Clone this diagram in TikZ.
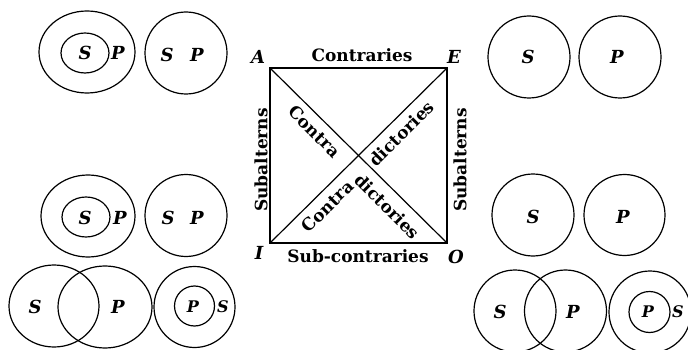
\documentclass[tikz,border=0pt]{standalone}
\usepackage{fontspec}
\setmainfont{DejaVu Serif}

\begin{document}
\begin{tikzpicture}[
    x=1pt, y=-1pt,
    ring/.style={draw, line width=1.2pt},
    side/.style={draw, line width=1.2pt},
    rel/.style={font=\fontsize{17}{19}\selectfont\bfseries, inner sep=0pt},
    corner/.style={font=\fontsize{18}{20}\selectfont\bfseries\itshape, inner sep=0pt},
    term/.style={font=\fontsize{18}{20}\selectfont\bfseries\itshape, inner sep=0pt},
    termSm/.style={font=\fontsize{16}{18}\selectfont\bfseries\itshape, inner sep=0pt}
]
    \useasboundingbox (0,0) rectangle (688,350);

    % square of opposition
    \coordinate (A) at (270,68);
    \coordinate (E) at (447,68);
    \coordinate (I) at (270,243);
    \coordinate (O) at (447,243);
    \draw[side] (A) -- (E) -- (O) -- (I) -- cycle;
    \draw[side] (A) -- (O);
    \draw[side] (I) -- (E);

    \node[corner] (lblA) at (258,57) {A};
    \node[corner] (lblE) at (454,57) {E};
    \node[corner] (lblI) at (259,253) {I};
    \node[corner] (lblO) at (456,257) {O};

    \node[rel] (contraries) at (362,55) {Contraries};
    \node[rel] (subcontraries) at (358,256) {Sub-contraries};
    \node[rel, rotate=90] (subLeft) at (261,160) {Subalterns};
    \node[rel, rotate=90] (subRight) at (460,160) {Subalterns};
    \node[rel, rotate=-45] (contraUp) at (314.5,131.5) {Contra};
    \node[rel, rotate=45] (dictUp) at (401.5,133.5) {dictories};
    \node[rel, rotate=45] (contraLow) at (327.5,206.5) {Contra};
    \node[rel, rotate=-45] (dictLow) at (387.5,206.5) {dictories};

    % A: all S is P
    \draw[ring] (87,52) ellipse [x radius=48, y radius=41];
    \draw[ring] (85,53) ellipse [x radius=24, y radius=20];
    \node[term] (aS) at (85,53) {S};
    \node[term] (aP) at (118,53) {P};
    \draw[ring] (186,53) circle [radius=41];
    \node[term] (aS2) at (167,55) {S};
    \node[term] (aP2) at (197,55) {P};

    % E: no S is P
    \draw[ring] (529,57) circle [radius=41];
    \draw[ring] (620,57) circle [radius=41];
    \node[term] (eS) at (528,57) {S};
    \node[term] (eP) at (617,57) {P};

    % I: some S is P
    \draw[ring] (88,216) ellipse [x radius=47, y radius=41];
    \draw[ring] (86,217) ellipse [x radius=24, y radius=20];
    \node[term] (iS) at (85,218) {S};
    \node[term] (iP) at (120,218) {P};
    \draw[ring] (186,215.5) circle [radius=41];
    \node[term] (iS2) at (168,218) {S};
    \node[term] (iP2) at (197,218) {P};
    \draw[ring] (54,306) ellipse [x radius=45, y radius=41];
    \draw[ring] (105,307) ellipse [x radius=47, y radius=41];
    \node[term] (iS3) at (35,307) {S};
    \node[term] (iP3) at (118,307) {P};
    \draw[ring] (194.5,307) circle [radius=40.5];
    \draw[ring] (194.5,306) circle [radius=20];
    \node[termSm] (iP4) at (193,307) {P};
    \node[termSm] (iS4) at (223,307) {S};

    % O: some S is not P
    \draw[ring] (533,215) circle [radius=41];
    \draw[ring] (624.5,215) circle [radius=40.5];
    \node[term] (oS) at (533,217) {S};
    \node[term] (oP) at (623,217) {P};
    \draw[ring] (515,311) circle [radius=41];
    \draw[ring] (565.5,311) circle [radius=41];
    \node[term] (oS2) at (500,312) {S};
    \node[term] (oP2) at (573,312) {P};
    \draw[ring] (650,312) circle [radius=41];
    \draw[ring] (649.5,312) circle [radius=20.5];
    \node[termSm] (oP3) at (648,312) {P};
    \node[termSm] (oS3) at (678,312) {S};
\end{tikzpicture}
\end{document}
